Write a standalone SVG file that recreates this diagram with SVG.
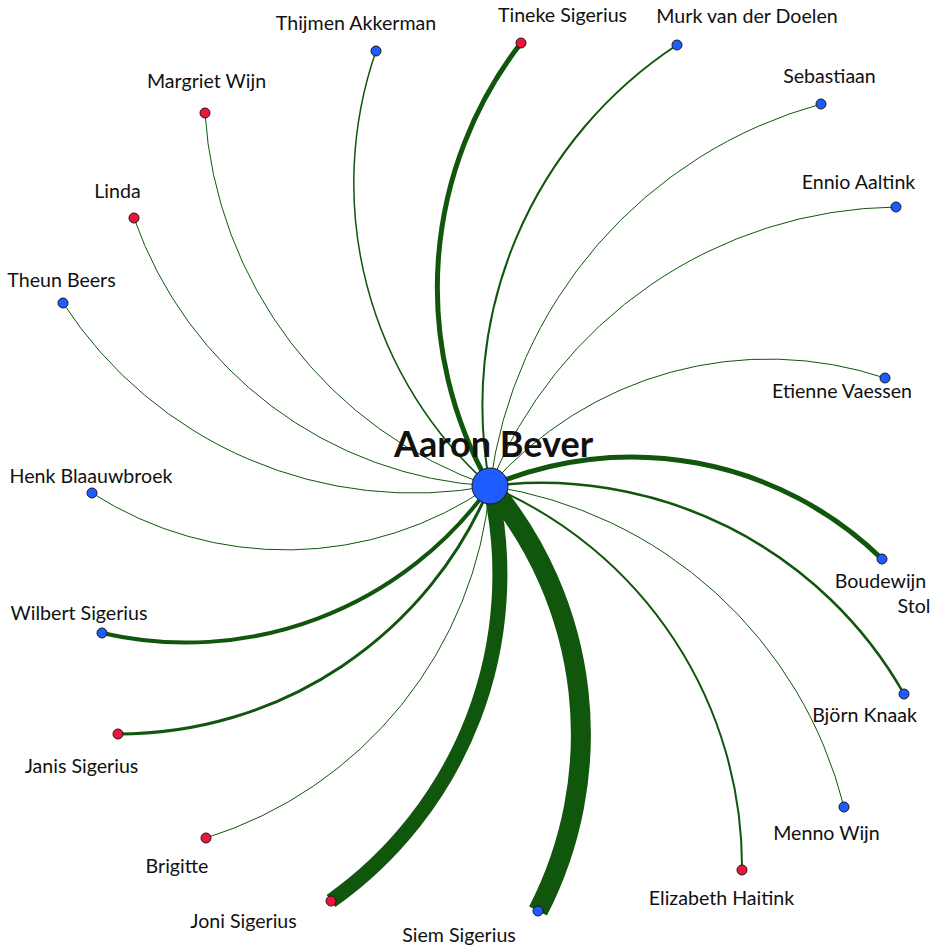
<svg xmlns="http://www.w3.org/2000/svg" width="938" height="948" viewBox="0 0 938 948">
<style>
.e{fill:none;stroke:#11560d;stroke-linecap:butt}
.n{stroke:#1a1a1a;stroke-width:1}
.b{fill:#1f5cff}
.r{fill:#f0143c}
.l{font-family:Lato,"Liberation Sans",sans-serif;font-size:19.6px;fill:#111;text-anchor:middle}
.c{font-family:Lato,"Liberation Sans",sans-serif;font-size:36px;font-weight:bold;fill:#111;text-anchor:middle}
</style>
<rect width="938" height="948" fill="#fff"/>
<g id="edges">
<path class="e" stroke-width="1.5" d="M490 486 A404.7 404.7 0 0 1 376 51"/>
<path class="e" stroke-width="1" d="M490 486 A422.5 422.5 0 0 1 205 113"/>
<path class="e" stroke-width="1" d="M490 486 A401 401 0 0 1 134 218"/>
<path class="e" stroke-width="1" d="M490 486 A418.1 418.1 0 0 1 63 303"/>
<path class="e" stroke-width="5" d="M490 486 A399.7 399.7 0 0 1 521 43"/>
<path class="e" stroke-width="2" d="M490 486 A431.1 431.1 0 0 1 677 45"/>
<path class="e" stroke-width="1" d="M490 486 A455 455 0 0 1 821 104"/>
<path class="e" stroke-width="1" d="M490 486 A443.3 443.3 0 0 1 896 207"/>
<path class="e" stroke-width="1" d="M490 486 A368.6 368.6 0 0 1 885 378"/>
<path class="e" stroke-width="5" d="M490 486 A358.8 358.8 0 0 1 882 559"/>
<path class="e" stroke-width="2.5" d="M490 486 A417 417 0 0 1 904 694"/>
<path class="e" stroke-width="1" d="M490 486 A430.1 430.1 0 0 1 844 807"/>
<path class="e" stroke-width="2" d="M490 486 A413.4 413.4 0 0 1 742 870"/>
<path class="e" stroke-width="20" d="M490 486 A384.9 384.9 0 0 1 538 911"/>
<path class="e" stroke-width="15" d="M490 486 A400 400 0 0 1 331 901"/>
<path class="e" stroke-width="1" d="M490 486 A407.1 407.1 0 0 1 206 838"/>
<path class="e" stroke-width="3" d="M490 486 A402.4 402.4 0 0 1 118 734"/>
<path class="e" stroke-width="4" d="M490 486 A373.4 373.4 0 0 1 102 633"/>
<path class="e" stroke-width="1" d="M490 486 A358.3 358.3 0 0 1 92 493"/>
</g>
<g id="n-thijmen"><circle class="n b" cx="376" cy="51" r="5"/><text class="l" x="356" y="30">Thijmen Akkerman</text></g>
<g id="n-margriet"><circle class="n r" cx="205" cy="113" r="5"/><text class="l" x="206.5" y="88">Margriet Wijn</text></g>
<g id="n-linda"><circle class="n r" cx="134" cy="218" r="5"/><text class="l" x="117.5" y="198">Linda</text></g>
<g id="n-theun"><circle class="n b" cx="63" cy="303" r="5"/><text class="l" x="61.5" y="287">Theun Beers</text></g>
<g id="n-tineke"><circle class="n r" cx="521" cy="43" r="5"/><text class="l" x="562.5" y="22">Tineke Sigerius</text></g>
<g id="n-murk"><circle class="n b" cx="677" cy="45" r="5"/><text class="l" x="747" y="23">Murk van der Doelen</text></g>
<g id="n-sebastiaan"><circle class="n b" cx="821" cy="104" r="5"/><text class="l" x="829.5" y="83">Sebastiaan</text></g>
<g id="n-ennio"><circle class="n b" cx="896" cy="207" r="5"/><text class="l" x="858.5" y="189">Ennio Aaltink</text></g>
<g id="n-etienne"><circle class="n b" cx="885" cy="378" r="5"/><text class="l" x="842" y="398">Etienne Vaessen</text></g>
<g id="n-boudewijn"><circle class="n b" cx="882" cy="559" r="5"/><text class="l" x="880.5" y="588">Boudewijn</text><text class="l" x="914" y="613">Stol</text></g>
<g id="n-bjorn"><circle class="n b" cx="904" cy="694" r="5"/><text class="l" x="864.5" y="722">Björn Knaak</text></g>
<g id="n-menno"><circle class="n b" cx="844" cy="807" r="5"/><text class="l" x="826.5" y="840">Menno Wijn</text></g>
<g id="n-elizabeth"><circle class="n r" cx="742" cy="870" r="5"/><text class="l" x="721.5" y="905">Elizabeth Haitink</text></g>
<g id="n-siem"><circle class="n b" cx="538" cy="911" r="5"/><text class="l" x="459" y="942">Siem Sigerius</text></g>
<g id="n-joni"><circle class="n r" cx="331" cy="901" r="5"/><text class="l" x="243.5" y="928">Joni Sigerius</text></g>
<g id="n-brigitte"><circle class="n r" cx="206" cy="838" r="5"/><text class="l" x="177" y="873">Brigitte</text></g>
<g id="n-janis"><circle class="n r" cx="118" cy="734" r="5"/><text class="l" x="81.5" y="773">Janis Sigerius</text></g>
<g id="n-wilbert"><circle class="n b" cx="102" cy="633" r="5"/><text class="l" x="79" y="620">Wilbert Sigerius</text></g>
<g id="n-henk"><circle class="n b" cx="92" cy="493" r="5"/><text class="l" x="91" y="483">Henk Blaauwbroek</text></g>
<g id="n-aaron"><circle class="n b" cx="490" cy="486" r="18"/><text class="c" x="493.5" y="457">Aaron Bever</text></g>
</svg>
